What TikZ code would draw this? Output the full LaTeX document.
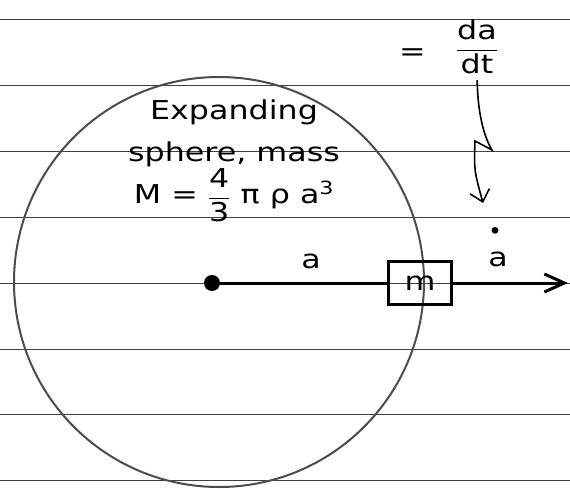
\documentclass[tikz,border=0pt]{standalone}
\usepackage{fontspec}
\setmainfont{DejaVu Sans}[FakeStretch=1.22]
\usetikzlibrary{positioning,arrows.meta}

\tikzset{
  hand/.style={font=\fontsize{26}{42}\selectfont,inner sep=0pt},
  ruled/.style={draw=black!75,line width=1pt},
  massbox/.style={draw,line width=2.2pt,minimum width=63pt,minimum height=43pt,inner sep=0pt},
}

\begin{document}
\begin{tikzpicture}[x=1pt,y=-1pt,>={Straight Barb[length=20pt,width=18pt]}]
	\useasboundingbox[fill=white] (0,0) rectangle (570,489);
	
	% lined paper
	\foreach \y in {20,86,152,218,283,349,414,480}
		\draw[ruled] (0,\y) -- (570,\y);
	
	% the sphere
	\draw[black!70,line width=2pt] (219,282) circle [radius=205pt];
	\node[hand,align=center,anchor=north] (sphere) at (234,100) {Expanding\\sphere, mass\\M = $\displaystyle\frac{\mbox{4}}{\mbox{3}}$ π ρ a\textsuperscript{3}};
	
	\node[circle,fill,inner sep=0pt,minimum size=16pt] (centre) at (212,283) {};
	\node[massbox,hand] (mass) at (420,283) {m};
	\node[hand] (radius) at (311,261) {a};
	\node[hand] (adot) at (498,259) {a};
	\fill (adot.north) ++(-3,-21) circle [radius=3.4pt];
	
	\node[hand] (dadt) at (477,47) {$\displaystyle\frac{\mbox{da}}{\mbox{dt}}$};
	\node[hand,left=30pt of dadt,yshift=-8pt] (eq) {=};
	
	\coordinate (end) at (568,283);
	\coordinate (tip) at (483,203);
	
	\draw[line width=3pt] (centre) -- (mass);
	\draw[line width=3pt,->] (mass) -- (end);
	\draw[line width=1.6pt,->,>={Straight Barb[length=11pt,width=20pt]},shorten <=6pt] (dadt.south) .. controls (478,120) and (486,140) .. (492,150) -- (475,141) .. controls (474,170) .. (tip);
\end{tikzpicture}
\end{document}
